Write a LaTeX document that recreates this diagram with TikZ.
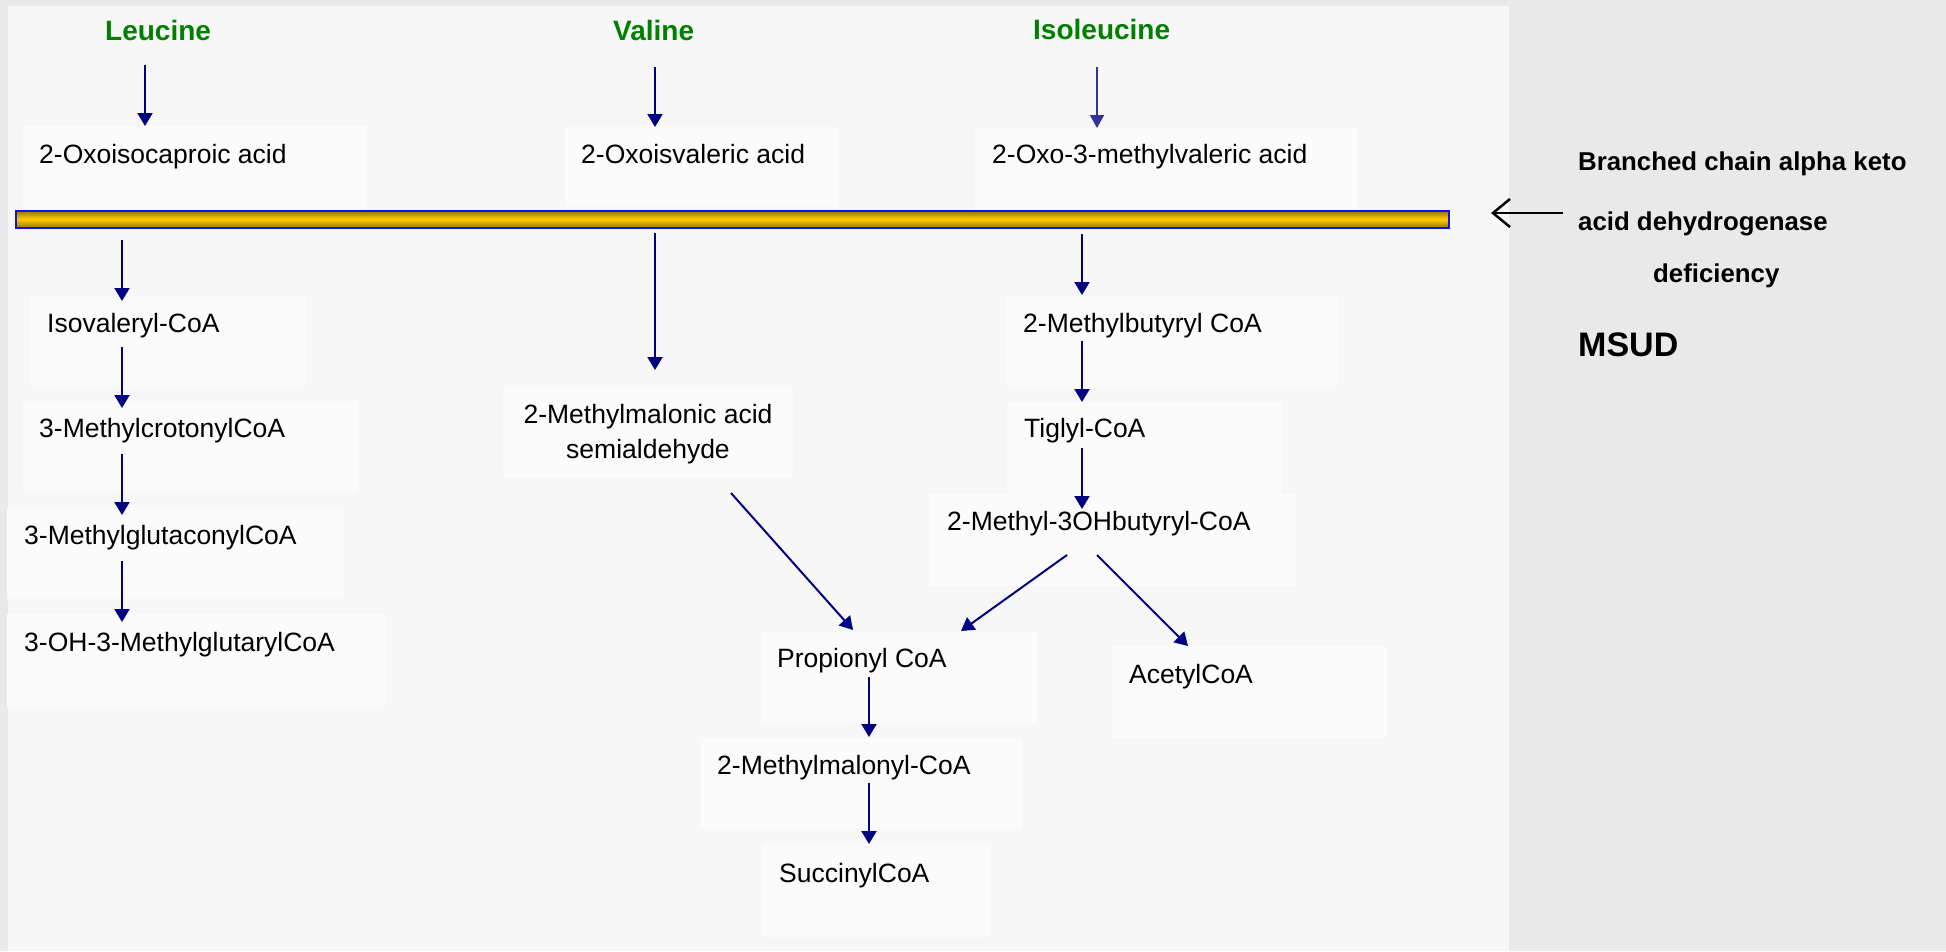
\documentclass[tikz,border=0pt]{standalone}
\usepackage{fontspec}
\setmainfont{Liberation Sans}
\usetikzlibrary{arrows.meta}
\definecolor{outerbg}{HTML}{E9E9E9}
\definecolor{panelbg}{HTML}{F7F7F7}
\definecolor{boxbg}{HTML}{FBFBFB}
\definecolor{navy}{HTML}{000080}
\definecolor{ilenavy}{HTML}{333399}
\definecolor{aagreen}{HTML}{008000}
\definecolor{barblue}{HTML}{1010FF}
\definecolor{golddark}{HTML}{9A7200}
\definecolor{goldmid}{HTML}{FFCC00}
\tikzset{
  box/.style={fill=boxbg, draw=none, anchor=north west, inner sep=0pt},
  txt/.style={anchor=base west, inner sep=0pt, font=\fontsize{26.5}{35}\selectfont, text=black},
  aa/.style={anchor=base west, inner sep=0pt, font=\bfseries\fontsize{28}{32}\selectfont, text=aagreen},
  note/.style={anchor=base west, inner sep=0pt, font=\bfseries\fontsize{25.8}{30}\selectfont, text=black},
  flow/.style={draw=navy, line width=2pt, -{Triangle[width=15pt,length=13pt]}},
  enzarrow/.style={draw=black, line width=2pt, -{Straight Barb[length=17pt,width=28pt,line width=2.5pt]}},
}
\begin{document}
\begin{tikzpicture}[x=1pt,y=-1pt]
\useasboundingbox (0,0) rectangle (1946,951);
\fill[outerbg] (0,0) rectangle (1946,951);
\fill[panelbg] (8,6) rectangle (1509,951);

% boxes
\node[box, minimum width=344, minimum height=83] (bOic) at (23,126) {};
\node[box, minimum width=273, minimum height=80] (bOiv) at (565,127) {};
\node[box, minimum width=382, minimum height=82] (bOmv) at (975,128) {};
\node[box, minimum width=276, minimum height=91] (bIsov) at (30,296) {};
\node[box, minimum width=335, minimum height=91] (bCrot) at (23,401) {};
\node[box, minimum width=337, minimum height=91] (bGlc) at (7,508) {};
\node[box, minimum width=379, minimum height=93] (bHmg) at (7,614) {};
\node[box, minimum width=290, minimum height=91] (bSemi) at (503,387) {};
\node[box, minimum width=275, minimum height=91] (bProp) at (762,632) {};
\node[box, minimum width=321, minimum height=91] (bMmal) at (701,738) {};
\node[box, minimum width=229, minimum height=93] (bSucc) at (762,844) {};
\node[box, minimum width=332, minimum height=91] (bMbut) at (1006,296) {};
\node[box, minimum width=275, minimum height=91] (bTig) at (1007,402) {};
\node[box, minimum width=367, minimum height=92] (bOhb) at (929,494) {};
\node[box, minimum width=275, minimum height=92] (bAce) at (1112,646) {};

% enzyme block bar
\node[anchor=north west, inner sep=0pt, draw=barblue, line width=1.5pt,
      top color=golddark, bottom color=golddark, middle color=goldmid,
      minimum width=1433, minimum height=17] (bar) at (15,210) {};

% amino acids
\node[aa] (leu) at (105,40) {Leucine};
\node[aa] (val) at (613,40) {Valine};
\node[aa] (ile) at (1033,39) {Isoleucine};

% texts
\node[txt] (oic) at (39,163) {2-Oxoisocaproic acid};
\node[txt] (oiv) at (581,163) {2-Oxoisvaleric acid};
\node[txt] (omv) at (992,163) {2-Oxo-3-methylvaleric acid};
\node[txt] (isov) at (47,332) {Isovaleryl-CoA};
\node[txt] (crot) at (39,437) {3-MethylcrotonylCoA};
\node[txt] (glc) at (24,544) {3-MethylglutaconylCoA};
\node[txt] (hmg) at (24,651) {3-OH-3-MethylglutarylCoA};
\node[txt, anchor=base, align=center] (semi) at (648,458) {2-Methylmalonic acid\\semialdehyde};
\node[txt] (prop) at (777,667) {Propionyl CoA};
\node[txt] (mmal) at (717,774) {2-Methylmalonyl-CoA};
\node[txt] (succ) at (779,882) {SuccinylCoA};
\node[txt] (mbut) at (1023,332) {2-Methylbutyryl CoA};
\node[txt] (tig) at (1024,437) {Tiglyl-CoA};
\node[txt] (ohb) at (947,530) {2-Methyl-3OHbutyryl-CoA};
\node[txt] (ace) at (1129,683) {AcetylCoA};

% right-hand notes
\node[note] (n1) at (1578,170) {Branched chain alpha keto};
\node[note] (n2) at (1578,230) {acid dehydrogenase};
\node[note] (n3) at (1653,282) {deficiency};
\node[note, font=\bfseries\fontsize{34}{40}\selectfont] (n4) at (1578,356) {MSUD};

% connector end points
\coordinate (leuS) at (145,65);   \coordinate (leuE) at (145,126);
\coordinate (valS) at (655,67);   \coordinate (valE) at (655,127);
\coordinate (ileS) at (1097,67);  \coordinate (ileE) at (1097,128);
\coordinate (l1S) at (122,240);   \coordinate (l1E) at (122,301);
\coordinate (l2S) at (122,347);   \coordinate (l2E) at (122,408);
\coordinate (l3S) at (122,454);   \coordinate (l3E) at (122,515);
\coordinate (l4S) at (122,561);   \coordinate (l4E) at (122,622);
\coordinate (v1S) at (655,233);   \coordinate (v1E) at (655,370);
\coordinate (v2S) at (731,493);   \coordinate (v2E) at (853,630);
\coordinate (i1S) at (1082,234);  \coordinate (i1E) at (1082,295);
\coordinate (i2S) at (1082,341);  \coordinate (i2E) at (1082,402);
\coordinate (i3S) at (1082,448);  \coordinate (i3E) at (1082,509);
\coordinate (i4S) at (1067,555);  \coordinate (i4E) at (961,631);
\coordinate (i5S) at (1097,555);  \coordinate (i5E) at (1188,646);
\coordinate (p1S) at (869,677);   \coordinate (p1E) at (869,737);
\coordinate (p2S) at (869,783);   \coordinate (p2E) at (869,844);
\coordinate (eS) at (1563,213);   \coordinate (eE) at (1491,213);

\draw[flow] (leuS) -- (leuE);
\draw[flow] (valS) -- (valE);
\draw[flow, draw=ilenavy, line width=1.6pt, -{Triangle[width=14pt,length=13pt]}, color=ilenavy] (ileS) -- (ileE);
\draw[flow] (l1S) -- (l1E);
\draw[flow] (l2S) -- (l2E);
\draw[flow] (l3S) -- (l3E);
\draw[flow] (l4S) -- (l4E);
\draw[flow] (v1S) -- (v1E);
\draw[flow] (v2S) -- (v2E);
\draw[flow] (i1S) -- (i1E);
\draw[flow] (i2S) -- (i2E);
\draw[flow] (i3S) -- (i3E);
\draw[flow] (i4S) -- (i4E);
\draw[flow] (i5S) -- (i5E);
\draw[flow] (p1S) -- (p1E);
\draw[flow] (p2S) -- (p2E);
\draw[enzarrow] (eS) -- (eE);
\end{tikzpicture}
\end{document}
